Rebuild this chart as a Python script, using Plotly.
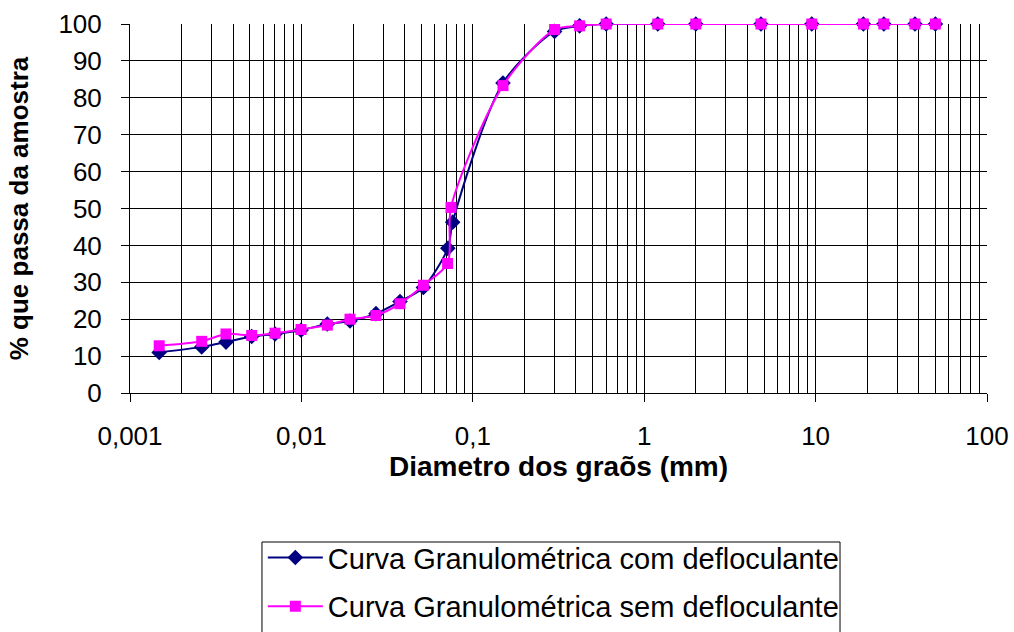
import plotly.graph_objects as go

# Diameters (mm) and % passing
d_com = [0.00148, 0.00262, 0.00363, 0.00513, 0.00702, 0.00995, 0.01416, 0.01921,
         0.02723, 0.0376, 0.0515, 0.0715, 0.0763, 0.15, 0.3, 0.42, 0.6, 1.2, 2.0,
         4.8, 9.5, 19, 25, 38, 50]
p_com = [11.0, 12.5, 13.8, 15.3, 16.0, 17.0, 18.7, 19.5, 21.5, 24.8, 28.6, 39.2,
         46.3, 84.0, 98.0, 99.5, 100, 100, 100, 100, 100, 100, 100, 100, 100]

d_sem = [0.00148, 0.00262, 0.00363, 0.00513, 0.00702, 0.00995, 0.01416, 0.01921,
         0.02723, 0.0376, 0.0515, 0.0713, 0.0746, 0.15, 0.3, 0.42, 0.6, 1.2, 2.0,
         4.8, 9.5, 19, 25, 38, 50]
p_sem = [12.8, 14.0, 16.0, 15.6, 16.2, 17.2, 18.4, 20.0, 21.0, 24.2, 29.2, 35.1,
         50.3, 83.3, 98.5, 99.5, 100, 100, 100, 100, 100, 100, 100, 100, 100]

x_tickvals = [0.001, 0.01, 0.1, 1, 10, 100]
x_ticktext = ["0,001", "0,01", "0,1", "1", "10", "100"]

name_com = "Curva Granulométrica com defloculante"
name_sem = "Curva Granulométrica sem defloculante"

FONT = "Liberation Sans, Arial, sans-serif"

fig = go.Figure()
fig.add_trace(go.Scatter(
    x=d_com, y=p_com, name=name_com, mode="lines+markers",
    line=dict(color="#000080", width=2, shape="spline", smoothing=0.8),
    marker=dict(symbol="diamond", size=12, color="#000080"),
    legendgroup="a", cliponaxis=False,
))
fig.add_trace(go.Scatter(
    x=d_sem, y=p_sem, name=name_sem, mode="lines+markers",
    line=dict(color="#FF00FF", width=2, shape="spline", smoothing=0.8),
    marker=dict(symbol="square", size=11, color="#FF00FF"),
    legendgroup="b", cliponaxis=False,
))

fig.update_layout(
    width=1014, height=632,
    margin=dict(l=130, r=27, t=24, b=239, autoexpand=False),
    paper_bgcolor="white", plot_bgcolor="white",
    font=dict(family=FONT, size=27, color="black"),
    showlegend=True,
    legend=dict(
        x=0.155, y=-0.377, xanchor="left", yanchor="top",
        borderwidth=0, bgcolor="rgba(0,0,0,0)",
        font=dict(family=FONT, size=29, color="black"),
        traceorder="grouped", tracegroupgap=8, itemwidth=55,
    ),
    shapes=[dict(
        type="rect", xref="paper", yref="paper",
        x0=0.154, x1=0.8285, y0=-0.4038, y1=-0.70,
        line=dict(color="black", width=1), fillcolor="rgba(0,0,0,0)",
    )],
)

fig.update_xaxes(
    type="log", range=[-3, 2],
    tickvals=x_tickvals, ticktext=x_ticktext,
    showgrid=True, gridcolor="black", gridwidth=1,
    minor=dict(showgrid=True, gridcolor="black", gridwidth=1, dtick="D1"),
    ticks="outside", ticklen=8, tickcolor="black",
    showline=True, linecolor="black", linewidth=1,
    tickfont=dict(family=FONT, size=26), ticklabelstandoff=12,
    title=dict(text="<b>Diametro dos graõs (mm)</b>", font=dict(family=FONT, size=28), standoff=4),
    zeroline=False,
)
fig.update_yaxes(
    range=[0, 100], dtick=10,
    showgrid=True, gridcolor="black", gridwidth=1,
    ticks="outside", ticklen=8, tickcolor="black",
    showline=True, linecolor="black", linewidth=1,
    tickfont=dict(family=FONT, size=26), ticklabelstandoff=14,
    title=dict(text="<b>% que passa da amostra</b>", font=dict(family=FONT, size=26), standoff=22),
    zeroline=False,
)

fig.write_html("out.html")
